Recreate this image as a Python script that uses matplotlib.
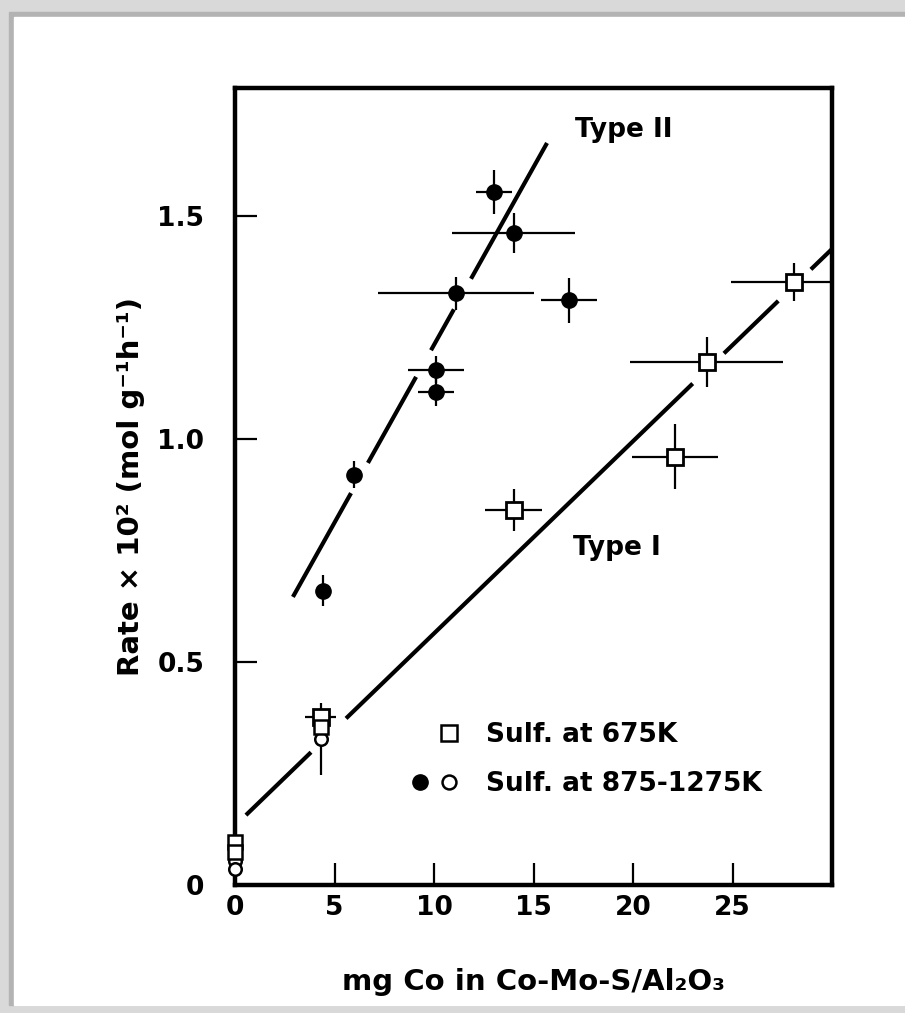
import numpy as np
import matplotlib.pyplot as plt
from matplotlib.patches import Rectangle
from matplotlib.lines import Line2D
from matplotlib.legend_handler import HandlerTuple

plt.rcParams['font.family'] = ['DejaVu Sans']
plt.rcParams['font.weight'] = 'bold'
plt.rcParams['axes.labelweight'] = 'bold'

# Type II: filled circles (sulfided at 875-1275 K)
t2_x = [4.4, 6.0, 10.1, 10.1, 11.1, 13.0, 14.0, 16.8]
t2_y = [0.66, 0.92, 1.105, 1.155, 1.327, 1.554, 1.462, 1.311]
t2_xerr = [0, 0, 0.9, 1.4, 3.9, 0.9, 3.1, 1.4]
t2_yerr = [0.035, 0.03, 0.032, 0.03, 0.037, 0.05, 0.044, 0.05]

# Type I: open squares (sulfided at 675 K)
t1_x = [4.3, 14.0, 22.1, 23.7, 28.1]
t1_y = [0.377, 0.84, 0.96, 1.173, 1.352]
t1_xerr = [0.8, 1.45, 2.15, 3.85, 3.2]
t1_yerr = [0.0, 0.047, 0.073, 0.056, 0.043]

# extra open markers
sq_x = [0, 0, 4.3]
sq_y = [0.097, 0.073, 0.354]
oc_x = [0, 0, 4.3]
oc_y = [0.053, 0.035, 0.327]
oc_yerr = [0, 0, 0.08]

# fitted lines (slope, intercept) and drawn pieces
fit1 = (0.0431, 0.133)
fit1_pieces = [(0.55, 3.82), (5.58, 23.0), (24.57, 27.3), (28.94, 30.0)]
fit2 = (0.0797, 0.414)
fit2_pieces = [(2.91, 5.83), (6.68, 9.1), (9.85, 11.0), (11.86, 15.68)]

xticks = [0, 5, 10, 15, 20, 25]
yticks = [0, 0.5, 1.0, 1.5]
ytick_labels = ['0', '0.5', '1.0', '1.5']

W, H = 905, 1013
fig = plt.figure(figsize=(W / 100, H / 100), dpi=100)

# scanned page border
fig.patches.append(Rectangle((0, 0), 1, 1, transform=fig.transFigure,
                             color='#d9d9d9', zorder=-10))
fig.patches.append(Rectangle((9 / W, 1 - 1005 / H), 1 - 9 / W, (1005 - 12) / H,
                             transform=fig.transFigure, color='#b3b3b3', zorder=-9))
fig.patches.append(Rectangle((14 / W, 1 - 1005 / H), 1 - 14 / W, (1005 - 17) / H,
                             transform=fig.transFigure, color='white', zorder=-8))

ax = fig.add_axes([235 / W, 1 - 885 / H, (832 - 235) / W, (885 - 88) / H])
ax.set_xlim(0, 30)
ax.set_ylim(0, 1.787)

for (m, b), pieces in [(fit1, fit1_pieces), (fit2, fit2_pieces)]:
    for a, c in pieces:
        xs = np.array([a, c])
        ax.plot(xs, m * xs + b, color='black', lw=3, solid_capstyle='butt')

ax.errorbar(t2_x, t2_y, xerr=t2_xerr, yerr=t2_yerr, fmt='o', color='black',
            ms=11, elinewidth=1.6, capsize=0, zorder=5)
ax.errorbar(t1_x, t1_y, xerr=t1_xerr, yerr=t1_yerr, fmt='s', color='black',
            mfc='white', mec='black', mew=2, ms=11, elinewidth=1.6, capsize=0,
            zorder=5, clip_on=True)
ax.errorbar(oc_x, oc_y, yerr=oc_yerr, fmt='o', color='black', mfc='white',
            mec='black', mew=1.8, ms=9, elinewidth=1.6, capsize=0, zorder=4,
            clip_on=False)
ax.plot(sq_x, sq_y, 's', mfc='white', mec='black', mew=1.8, ms=10, zorder=6,
        clip_on=False)

ax.text(17.1, 1.693, 'Type II', fontsize=19, va='center', ha='left')
ax.text(17.0, 0.756, 'Type I', fontsize=19, va='center', ha='left')

blank = Line2D([], [], linestyle='none')
h_sq = Line2D([], [], linestyle='none', marker='s', mfc='white', mec='black',
              mew=1.8, ms=11)
h_fc = Line2D([], [], linestyle='none', marker='o', color='black', ms=11)
h_oc = Line2D([], [], linestyle='none', marker='o', mfc='white', mec='black',
              mew=1.8, ms=10)
ax.legend([(blank, h_sq), (h_fc, h_oc)], ['Sulf. at 675K', 'Sulf. at 875-1275K'],
          handler_map={tuple: HandlerTuple(ndivide=None, pad=0)},
          loc='upper left', bbox_to_anchor=(0.285, 0.204), frameon=False,
          fontsize=19, borderpad=0, handlelength=2.2, handletextpad=0.85,
          labelspacing=0.85, borderaxespad=0)

ax.set_xticks(xticks)
ax.set_yticks(yticks)
ax.set_yticklabels(ytick_labels)
ax.tick_params(direction='in', length=16, width=1.6, labelsize=19)
ax.tick_params(axis='x', pad=7)
ax.tick_params(axis='y', pad=22)
for s in ax.spines.values():
    s.set_linewidth(3.2)

ax.set_xlabel('mg Co in Co-Mo-S/Al₂O₃', fontsize=21, labelpad=34)
ax.set_ylabel('Rate × 10² (mol g⁻¹h⁻¹)', fontsize=21, labelpad=9)

fig.savefig('out.png', dpi=100)
